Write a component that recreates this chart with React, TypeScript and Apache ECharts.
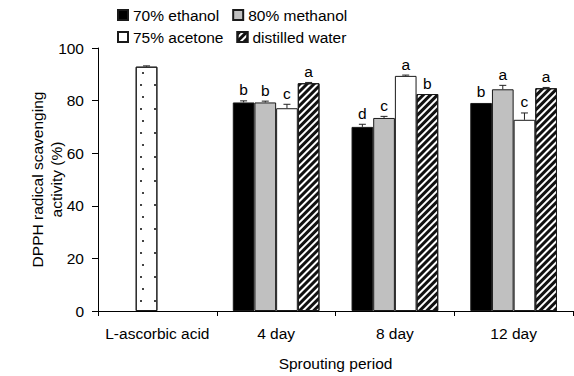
import React, { useEffect, useRef } from "react";
import * as echarts from "echarts";

const categories = ["L-ascorbic acid", "4 day", "8 day", "12 day"];
const seriesNames = ["70% ethanol", "80% methanol", "75% acetone", "distilled water"];

const ascorbic = [92.9, "-", "-", "-"];
const ethanol = ["-", 79.3, 70.0, 79.1];
const methanol = ["-", 79.3, 73.4, 84.3];
const acetone = ["-", 77.1, 89.4, 72.7];
const water = ["-", 86.6, 82.5, 84.7];

const ascorbicErr = [0.3, 0, 0, 0];
const ethanolErr = [0, 0.6, 1.0, 0];
const methanolErr = [0, 0.5, 0.6, 1.5];
const acetoneErr = [0, 1.5, 0.3, 2.6];
const waterErr = [0, 0.3, 0, 0.3];

const ethanolLetters = ["", "b", "d", "b"];
const methanolLetters = ["", "b", "c", "a"];
const acetoneLetters = ["", "c", "a", "c"];
const waterLetters = ["", "a", "b", "a"];

const FONT = "'Liberation Sans', Arial, sans-serif";
const FS = 15.5;
const GAP = 0.27;

export default function App() {
  const ref = useRef<HTMLDivElement>(null);
  useEffect(() => {
    document.body.style.margin = "0";
    if (!ref.current) return;
    const chart = echarts.init(ref.current, null, { renderer: "svg" });

    // error bar / letter data: [cat, slot, value, err]
    const errData: number[][] = [];
    const errLetters: string[] = [];
    const groups = [
      { vals: ethanol, errs: ethanolErr, letters: ethanolLetters, slot: 0 },
      { vals: methanol, errs: methanolErr, letters: methanolLetters, slot: 1 },
      { vals: acetone, errs: acetoneErr, letters: acetoneLetters, slot: 2 },
      { vals: water, errs: waterErr, letters: waterLetters, slot: 3 },
    ];
    ascorbic.forEach((v, i) => {
      if (typeof v === "number") {
        errData.push([i, 1, v, ascorbicErr[i]]);
        errLetters.push("");
      }
    });
    groups.forEach((g) => {
      g.vals.forEach((v, i) => {
        if (typeof v === "number") {
          errData.push([i, g.slot, v, g.errs[i]]);
          errLetters.push(g.letters[i]);
        }
      });
    });

    const border = { borderColor: "#1a1a1a", borderWidth: 1 };
    const legendCommon = {
      left: 117,
      padding: 0,
      icon: "rect",
      itemWidth: 10,
      itemHeight: 10,
      itemGap: 13,
      textStyle: { fontFamily: FONT, fontSize: FS, color: "#000", width: 100 },
    };

    const option: any = {
      animation: false,
      textStyle: { fontFamily: FONT },
      grid: { left: 98, right: 1, top: 48, bottom: 65, containLabel: false, outerBoundsMode: "none" },
      legend: [
        { ...legendCommon, data: [seriesNames[0], seriesNames[1]], top: 7 },
        { ...legendCommon, data: [seriesNames[2], seriesNames[3]], top: 29 },
      ],
      xAxis: {
        type: "category",
        data: categories,
        name: "Sprouting period",
        nameLocation: "middle",
        nameGap: 44,
        nameMoveOverlap: false,
        nameTextStyle: { fontFamily: FONT, fontSize: FS, color: "#000" },
        axisLine: { lineStyle: { color: "#000", width: 1 } },
        axisTick: { show: true, length: 5, lineStyle: { color: "#000" } },
        axisLabel: { fontFamily: FONT, fontSize: FS, color: "#000", margin: 14, interval: 0 },
      },
      yAxis: {
        type: "value",
        min: 0,
        max: 100,
        interval: 20,
        name: "DPPH radical scavenging\nactivity (%)",
        nameLocation: "middle",
        nameGap: 32,
        nameMoveOverlap: false,
        nameTextStyle: { fontFamily: FONT, fontSize: FS, color: "#000", lineHeight: 19 },
        axisLine: { show: true, lineStyle: { color: "#000", width: 1 } },
        axisTick: { show: true, length: 6, lineStyle: { color: "#000" } },
        axisLabel: { fontFamily: FONT, fontSize: FS, color: "#000", margin: 14 },
        splitLine: { show: false },
      },
      series: [
        {
          name: seriesNames[0],
          type: "bar",
          data: ethanol,
          barGap: "0%",
          barCategoryGap: GAP * 100 + "%",
          itemStyle: { color: "#000", ...border },
        },
        {
          name: seriesNames[1],
          type: "bar",
          stack: "m",
          data: methanol,
          itemStyle: { color: "#c0c0c0", ...border },
        },
        {
          name: "L-ascorbic acid",
          type: "bar",
          stack: "m",
          data: ascorbic,
          itemStyle: {
            color: "#fff",
            ...border,
            decal: {
              symbol: "rect",
              symbolSize: 1,
              color: "#444",
              dashArrayX: [
                [1.5, 12],
                [0, 7, 1.5, 5.5],
              ],
              dashArrayY: [1.5, 9.5],
              rotation: 0,
            },
          },
        },
        {
          name: seriesNames[2],
          type: "bar",
          data: acetone,
          itemStyle: { color: "#fff", ...border },
        },
        {
          name: seriesNames[3],
          type: "bar",
          data: water,
          itemStyle: {
            color: "#fff",
            ...border,
            decal: {
              symbol: "rect",
              symbolSize: 1,
              color: "#111",
              dashArrayX: [1, 0],
              dashArrayY: [2.2, 1.8],
              rotation: -Math.PI / 4,
            },
          },
        },
        {
          type: "custom",
          data: errData,
          encode: { x: 0, y: 2 },
          z: 10,
          renderItem: (params: any, api: any) => {
            const cat = api.value(0);
            const slot = api.value(1);
            const val = api.value(2);
            const err = api.value(3);
            const band = api.size([1, 0])[0];
            const bw = (band * (1 - GAP)) / 4;
            const cx = api.coord([cat, 0])[0] + (slot - 1.5) * bw;
            const yv = api.coord([cat, val])[1];
            const ye = api.coord([cat, val + err])[1];
            const children: any[] = [];
            if (err > 0) {
              children.push({
                type: "line",
                shape: { x1: cx, y1: yv, x2: cx, y2: ye },
                style: { stroke: "#222", lineWidth: 1 },
              });
              children.push({
                type: "line",
                shape: { x1: cx - 3.5, y1: ye, x2: cx + 3.5, y2: ye },
                style: { stroke: "#222", lineWidth: 1 },
              });
            }
            const letter = errLetters[params.dataIndex];
            if (letter) {
              children.push({
                type: "text",
                x: cx,
                y: ye - 3,
                style: {
                  text: letter,
                  fontFamily: FONT,
                  fontSize: FS,
                  fill: "#000",
                  textAlign: "center",
                  textVerticalAlign: "bottom",
                },
              });
            }
            return { type: "group", children };
          },
        },
      ],
    };
    chart.setOption(option);
    return () => chart.dispose();
  }, []);
  return <div ref={ref} style={{ width: 574, height: 376 }} />;
}
